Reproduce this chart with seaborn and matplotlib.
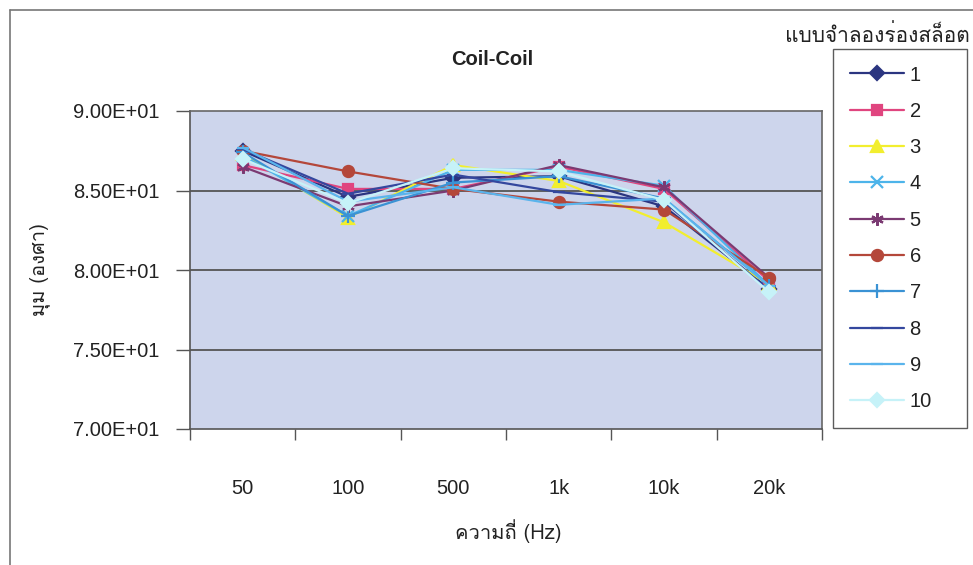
import numpy as np
import pandas as pd
import matplotlib
matplotlib.use("Agg")
import matplotlib.pyplot as plt
import seaborn as sns
from matplotlib.lines import Line2D
from matplotlib.ticker import FixedLocator, FuncFormatter, NullFormatter
from matplotlib import font_manager as fm
from matplotlib.ft2font import FT2Font

# ---------------- data ----------------
categories = ["50", "100", "500", "1k", "10k", "20k"]
series_names = ["1", "2", "3", "4", "5", "6", "7", "8", "9", "10"]
s1 = [87.5, 84.6, 85.8, 85.9, 84.0, 78.8]
s2 = [86.6, 85.1, 85.1, 86.5, 85.1, 79.3]
s3 = [87.3, 83.3, 86.6, 85.6, 83.0, 79.1]
s4 = [87.2, 83.4, 86.3, 86.3, 85.3, 79.0]
s5 = [86.5, 84.0, 85.0, 86.6, 85.2, 79.5]
s6 = [87.5, 86.2, 85.1, 84.3, 83.8, 79.5]
s7 = [87.4, 83.4, 85.5, 85.9, 84.5, 79.0]
s8 = [87.6, 84.8, 86.0, 84.9, 84.3, 78.7]
s9 = [87.7, 84.3, 85.2, 84.1, 84.5, 79.0]
s10 = [87.0, 84.2, 86.4, 86.2, 84.4, 78.6]
all_series = [s1, s2, s3, s4, s5, s6, s7, s8, s9, s10]
y_ticks = [70, 75, 80, 85, 90]

title = "Coil-Coil"
x_label = "ความถี่ (Hz)"
y_label = "มุม (องศา)"
legend_title = "แบบจำลองร่องสล็อต"

# ---------------- styles ----------------
colors = ["#2B3580", "#E0457F", "#F2EE2E", "#4DB4EA", "#7B3A72",
          "#B4473A", "#3A92D4", "#34479E", "#5AB4EC", "#C6F2F8"]
markers = ["D", "s", "^", "x", (6, 2, 0), "o", "+", "_", "_", "D"]
msizes = [7, 7, 8, 8, 9, 8, 10, 8, 8, 7]
FS = 14.5

# ---------------- fonts ----------------
preferred = []
others = []
for f in fm.fontManager.ttflist:
    try:
        cm = FT2Font(f.fname).get_charmap()
    except Exception:
        continue
    if 0x0E21 in cm and 0x0E33 in cm and 0x0E48 in cm:
        if "Sans" in f.name or "Loma" in f.name or "Garuda" in f.name:
            preferred.append(f.name)
        else:
            others.append(f.name)
cands = preferred + others
fam = ([cands[0]] if cands else []) + ["Liberation Sans", "DejaVu Sans"]

sns.set_theme(style="white")
plt.rcParams["font.family"] = ["Liberation Sans", "DejaVu Sans"]

df = pd.DataFrame({
    "pos": np.tile(np.arange(len(categories)), len(series_names)),
    "value": np.concatenate(all_series),
    "series": np.repeat(series_names, len(categories)),
})

W, H = 973, 565
fig = plt.figure(figsize=(W / 100, H / 100), dpi=100)
fig.patch.set_facecolor("white")

ax_l, ax_r, ax_t, ax_b = 190, 822, 111, 429
ax = fig.add_axes([ax_l / W, 1 - ax_b / H, (ax_r - ax_l) / W, (ax_b - ax_t) / H])
ax.set_facecolor("#CDD5EC")

for name, c, m, ms in zip(series_names, colors, markers, msizes):
    sub = df[df["series"] == name]
    sns.lineplot(data=sub, x="pos", y="value", color=c, marker=m,
                 markersize=ms, markeredgecolor=c, markerfacecolor=c,
                 markeredgewidth=1.6, linewidth=1.6, ax=ax, sort=False,
                 legend=False)

ax.set_xlim(-0.5, len(categories) - 0.5)
ax.set_ylim(70, 90)

# y axis
ax.yaxis.set_major_locator(FixedLocator(y_ticks))
ax.yaxis.set_major_formatter(FuncFormatter(lambda v, p: f"{v:.2E}"))
ax.tick_params(axis="y", which="major", direction="out", length=10, width=1,
               color="#555555", labelsize=FS, pad=12, left=True)
for yv in y_ticks[1:-1]:
    ax.axhline(yv, color="#555555", linewidth=1.3, zorder=0.5)

# x axis: ticks between categories, labels at category centres
ax.xaxis.set_major_locator(FixedLocator(np.arange(-0.5, len(categories), 1.0)))
ax.xaxis.set_major_formatter(NullFormatter())
ax.set_xticks(np.arange(len(categories)), labels=categories, minor=True)
ax.tick_params(axis="x", which="major", direction="out", length=8, width=1,
               color="#555555", bottom=True)
ax.tick_params(axis="x", which="minor", length=0, labelsize=FS, pad=36,
               labelcolor="#222222")
ax.tick_params(axis="y", labelcolor="#222222")

for sp in ax.spines.values():
    sp.set_color("#666666")
    sp.set_linewidth(1.2)
ax.spines["left"].set_color("#555555")
ax.spines["bottom"].set_color("#555555")

ax.set_xlabel(x_label, fontsize=FS, family=fam, color="#222222")
ax.xaxis.set_label_coords(0.503, -0.285)
ax.set_ylabel(y_label, fontsize=FS, family=fam, color="#222222")
ax.yaxis.set_label_coords(-0.222, 0.5)

fig.text(492 / W, 1 - 60 / H, title, ha="center", va="center",
         fontsize=14.5, fontweight="bold", color="#222222")

# legend
handles = [Line2D([0], [0], color=c, marker=m, markersize=ms,
                  markerfacecolor=c, markeredgecolor=c, markeredgewidth=1.6,
                  linewidth=1.6)
           for c, m, ms in zip(colors, markers, msizes)]
lx0, lx1, ly0 = 833, 967, 49
leg = fig.legend(handles, series_names, loc="upper left",
                 bbox_to_anchor=(lx0 / W, 1 - ly0 / H, (lx1 - lx0) / W, 0.0),
                 mode="expand", frameon=True,
                 fontsize=FS, handlelength=2.7, labelspacing=0.86,
                 handletextpad=0.28, borderpad=0.82, borderaxespad=0,
                 fancybox=False)
leg.get_frame().set_edgecolor("#333333")
leg.get_frame().set_linewidth(1.0)
for t in leg.get_texts():
    t.set_color("#222222")

fig.text(970 / W, 1 - 35 / H, legend_title, ha="right", va="center",
         fontsize=15, family=fam, color="#222222")

# outer chart border
fig.add_artist(Line2D([10 / W, 10 / W], [0, 1 - 10 / H], transform=fig.transFigure,
                      color="#777777", linewidth=1.2))
fig.add_artist(Line2D([10 / W, 1], [1 - 10 / H, 1 - 10 / H], transform=fig.transFigure,
                      color="#777777", linewidth=1.2))

fig.savefig("out.png", dpi=100, facecolor="white")
